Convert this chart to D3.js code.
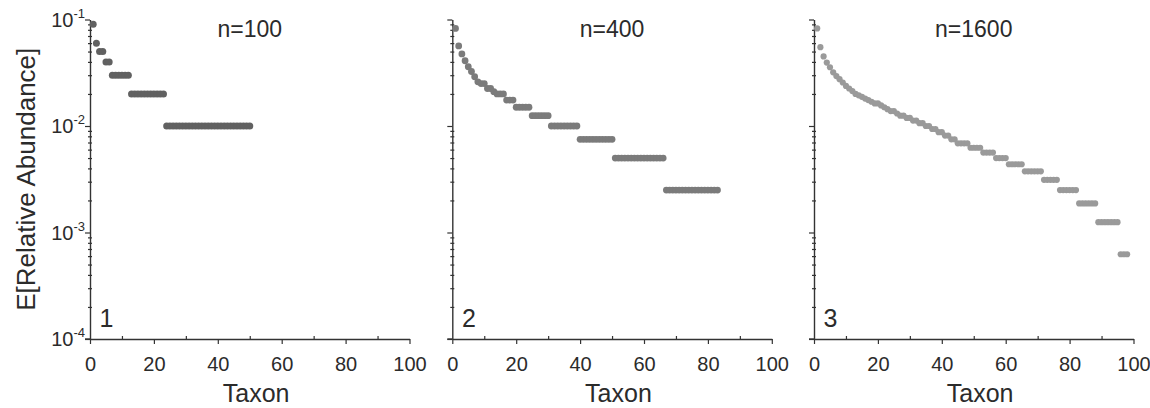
<!DOCTYPE html>
<html>
<head>
<meta charset="utf-8">
<script src="https://d3js.org/d3.v7.min.js"></script>
<style>
  html, body { margin: 0; padding: 0; background: #fff; }
  svg { display: block; }
  text { font-family: "Liberation Sans", Arial, sans-serif; fill: #2b2b2b; }
</style>
</head>
<body>
<div id="chart"></div>
<script>
// expected relative abundance per taxon (rank 1, 2, 3 ...)
var abund100 = [0.09, 0.06, 0.05, 0.05, 0.04, 0.04,
  0.03, 0.03, 0.03, 0.03, 0.03, 0.03,
  0.02, 0.02, 0.02, 0.02, 0.02, 0.02, 0.02, 0.02, 0.02, 0.02, 0.02,
  0.01, 0.01, 0.01, 0.01, 0.01, 0.01, 0.01, 0.01, 0.01, 0.01, 0.01, 0.01, 0.01, 0.01,
  0.01, 0.01, 0.01, 0.01, 0.01, 0.01, 0.01, 0.01, 0.01, 0.01, 0.01, 0.01, 0.01];

var abund400 = [0.0825, 0.0565, 0.0475, 0.041, 0.036, 0.0325, 0.029, 0.026, 0.025, 0.025,
  0.0225, 0.0225, 0.021, 0.02, 0.02, 0.02, 0.0175, 0.0175, 0.0175,
  0.015, 0.015, 0.015, 0.015, 0.015,
  0.0125, 0.0125, 0.0125, 0.0125, 0.0125, 0.0125,
  0.01, 0.01, 0.01, 0.01, 0.01, 0.01, 0.01, 0.01, 0.01,
  0.0075, 0.0075, 0.0075, 0.0075, 0.0075, 0.0075, 0.0075, 0.0075, 0.0075, 0.0075, 0.0075,
  0.005, 0.005, 0.005, 0.005, 0.005, 0.005, 0.005, 0.005, 0.005, 0.005, 0.005, 0.005, 0.005, 0.005, 0.005, 0.005,
  0.0025, 0.0025, 0.0025, 0.0025, 0.0025, 0.0025, 0.0025, 0.0025, 0.0025, 0.0025, 0.0025, 0.0025,
  0.0025, 0.0025, 0.0025, 0.0025, 0.0025];

var abund1600 = [0.0825, 0.055, 0.045, 0.0394, 0.0356, 0.0319, 0.0294, 0.0275, 0.0256, 0.0238,
  0.0225, 0.0213, 0.02, 0.0194, 0.0188, 0.0181, 0.0175, 0.0169, 0.0163, 0.0163,
  0.0156, 0.015, 0.0144, 0.0138, 0.0138, 0.0131, 0.0125, 0.0125, 0.0119, 0.0119,
  0.01125, 0.01125, 0.010625, 0.010625, 0.01, 0.01, 0.009375, 0.009375, 0.00875, 0.00875,
  0.008125, 0.008125, 0.0075, 0.0075,
  0.006875, 0.006875, 0.006875, 0.006875,
  0.00625, 0.00625, 0.00625, 0.00625,
  0.005625, 0.005625, 0.005625, 0.005625,
  0.005, 0.005, 0.005, 0.005,
  0.004375, 0.004375, 0.004375, 0.004375, 0.004375,
  0.00375, 0.00375, 0.00375, 0.00375, 0.00375, 0.00375,
  0.003125, 0.003125, 0.003125, 0.003125, 0.003125,
  0.0025, 0.0025, 0.0025, 0.0025, 0.0025, 0.0025,
  0.001875, 0.001875, 0.001875, 0.001875, 0.001875, 0.001875,
  0.00125, 0.00125, 0.00125, 0.00125, 0.00125, 0.00125, 0.00125,
  0.000625, 0.000625, 0.000625];

var panelTitles = ["n=100", "n=400", "n=1600"];
var panelNumbers = ["1", "2", "3"];
var xMajorTicks = [0, 20, 40, 60, 80, 100];
var xMinorTicks = [10, 30, 50, 70, 90];
var yMajorTicks = [1e-4, 1e-3, 1e-2, 1e-1];
var yTickExponents = ["-4", "-3", "-2", "-1"];

var panels = [
  {data: abund100, left: 90, color: "#616161", r: 3.5},
  {data: abund400, left: 452.3, color: "#7b7b7b", r: 3.4},
  {data: abund1600, left: 814, color: "#9a9a9a", r: 3.1}
];

var width = 1150, height = 408;
var plotTop = 19.5, plotBottom = 339, plotW = 319.5;
var axisColor = "#333";

var svg = d3.select("#chart").append("svg")
    .attr("width", width)
    .attr("height", height);

var y = d3.scaleLog().domain([1e-4, 1e-1]).range([plotBottom, plotTop]);

var yMinor = [];
[1e-4, 1e-3, 1e-2].forEach(function(d) {
  for (var k = 2; k <= 9; k++) yMinor.push(d * k);
});

panels.forEach(function(p, i) {
  var x = d3.scaleLinear().domain([0, 100]).range([p.left, p.left + plotW]);
  var g = svg.append("g");

  // minor ticks, short marks pointing inwards / straddling the axis
  g.append("g")
      .attr("transform", "translate(0," + (plotBottom - 3) + ")")
      .call(d3.axisBottom(x).tickValues(xMinorTicks).tickSize(3).tickFormat(""))
      .call(function(s) { s.select(".domain").remove(); });

  g.append("g")
      .attr("transform", "translate(" + (p.left + 2) + ",0)")
      .call(d3.axisLeft(y).tickValues(yMinor).tickSize(4).tickFormat(""))
      .call(function(s) { s.select(".domain").remove(); });

  var xa = g.append("g")
      .attr("transform", "translate(0," + plotBottom + ")")
      .call(d3.axisBottom(x).tickValues(xMajorTicks).tickSize(5).tickSizeOuter(0).tickPadding(13));
  xa.selectAll("text").style("font-size", "20px");

  g.append("g")
      .attr("transform", "translate(" + p.left + ",0)")
      .call(d3.axisLeft(y).tickValues(yMajorTicks).tickSize(5).tickSizeOuter(0).tickFormat(""));

  g.selectAll(".domain").attr("stroke", axisColor).attr("stroke-width", 1.4);
  g.selectAll(".tick line").attr("stroke", axisColor).attr("stroke-width", 1.2);
  g.selectAll(".tick text").attr("fill", "#2b2b2b");

  // the bottom axis runs a little left of zero in the original
  g.append("line")
      .attr("x1", p.left - 5).attr("x2", p.left)
      .attr("y1", plotBottom).attr("y2", plotBottom)
      .attr("stroke", axisColor).attr("stroke-width", 1.4);

  if (i === 0) {
    yMajorTicks.forEach(function(v, j) {
      var t = svg.append("text")
          .attr("x", p.left - 5)
          .attr("y", y(v) + 7)
          .attr("text-anchor", "end");
      t.append("tspan").style("font-size", "20px").text("10");
      t.append("tspan").style("font-size", "13px").attr("dy", -9).text(yTickExponents[j]);
    });

    svg.append("text")
        .attr("transform", "translate(35," + ((plotTop + plotBottom) / 2) + ") rotate(-90)")
        .attr("text-anchor", "middle")
        .style("font-size", "26px")
        .text("E[Relative Abundance]");
  }

  svg.append("g").selectAll("circle")
      .data(p.data)
      .enter().append("circle")
      .attr("cx", function(d, k) { return x(k + 1); })
      .attr("cy", function(d) { return y(d); })
      .attr("r", p.r)
      .attr("fill", p.color);

  svg.append("text")
      .attr("x", x(50))
      .attr("y", 37)
      .attr("text-anchor", "middle")
      .style("font-size", "23px")
      .text(panelTitles[i]);

  svg.append("text")
      .attr("x", x(3))
      .attr("y", 327)
      .style("font-size", "25px")
      .text(panelNumbers[i]);

  svg.append("text")
      .attr("x", x(52))
      .attr("y", 402)
      .attr("text-anchor", "middle")
      .style("font-size", "25px")
      .text("Taxon");
});
</script>
</body>
</html>
